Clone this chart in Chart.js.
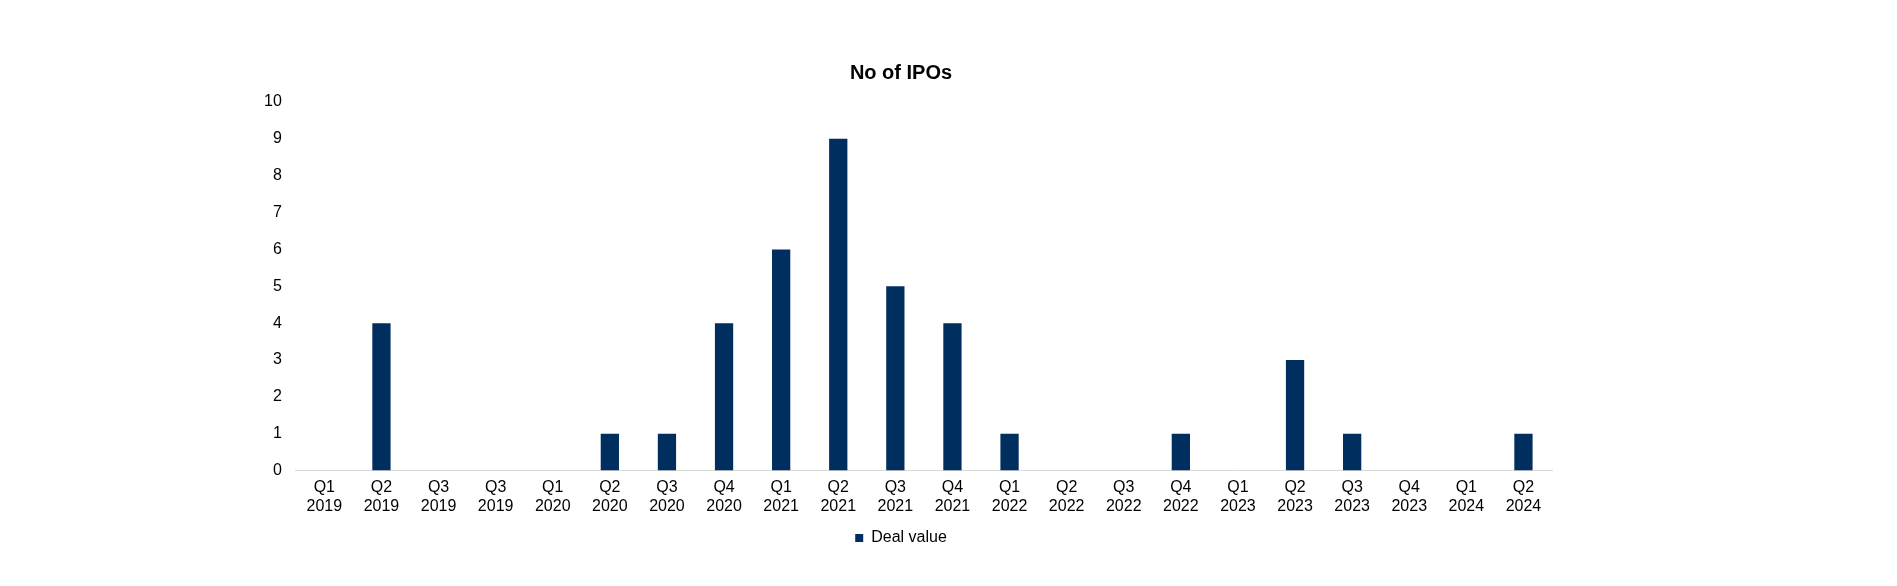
<!DOCTYPE html>
<html>
<head>
<meta charset="utf-8">
<script src="https://cdn.jsdelivr.net/npm/chart.js@4"></script>
<style>
  html, body { margin: 0; padding: 0; background: #fff; }
  #wrap { position: absolute; left: 230px; top: 0; width: 1362px; height: 586px; }
</style>
</head>
<body>
<div id="wrap"><canvas id="ipoChart"></canvas></div>
<script>
// Quarters as printed under the axis (the source repeats Q3 2019)
const quarters = ['Q1', 'Q2', 'Q3', 'Q3', 'Q1', 'Q2', 'Q3', 'Q4', 'Q1', 'Q2', 'Q3',
                  'Q4', 'Q1', 'Q2', 'Q3', 'Q4', 'Q1', 'Q2', 'Q3', 'Q4', 'Q1', 'Q2'];
const years = ['2019', '2019', '2019', '2019', '2020', '2020', '2020', '2020', '2021', '2021', '2021',
               '2021', '2022', '2022', '2022', '2022', '2023', '2023', '2023', '2023', '2024', '2024'];
// Number of IPOs per quarter
const ipoCounts = [0, 4, 0, 0, 0, 1, 1, 4, 6, 9, 5, 4, 1, 0, 0, 1, 0, 3, 1, 0, 0, 1];
const yTicks = [0, 1, 2, 3, 4, 5, 6, 7, 8, 9, 10];

const labels = quarters.map((q, i) => [q, years[i]]);

Chart.defaults.font.family = '"Liberation Sans", Arial, sans-serif';
Chart.defaults.color = '#000';

const ctx = document.getElementById('ipoChart').getContext('2d');
const ipoChart = new Chart(ctx, {
    type: 'bar',
    data: {
        labels: labels,
        datasets: [{
            label: 'Deal value',
            data: ipoCounts,
            backgroundColor: '#002E5E',
            barPercentage: 0.32,
            categoryPercentage: 1.0
        }]
    },
    options: {
        responsive: true,
        maintainAspectRatio: false,
        animation: false,
        layout: { padding: { left: 20, right: 40, top: 0, bottom: 30 } },
        plugins: {
            title: {
                display: true,
                text: 'No of IPOs',
                font: { size: 20, weight: 'bold' },
                padding: { top: 61, bottom: 17 }
            },
            legend: {
                position: 'bottom',
                labels: {
                    boxWidth: 8,
                    boxHeight: 8,
                    padding: 7,
                    font: { size: 16 }
                }
            },
            tooltip: { enabled: false }
        },
        scales: {
            x: {
                grid: { display: false, drawTicks: false },
                border: { display: true, color: '#d9d9d9', width: 1 },
                ticks: { font: { size: 16, lineHeight: 1.2 }, padding: 7, maxRotation: 0, autoSkip: false }
            },
            y: {
                min: 0,
                max: 10,
                afterBuildTicks: axis => { axis.ticks = yTicks.map(v => ({ value: v })); },
                grid: { display: false, drawTicks: false },
                border: { display: false },
                ticks: { font: { size: 16 }, padding: 14 }
            }
        }
    }
});
</script>
</body>
</html>
